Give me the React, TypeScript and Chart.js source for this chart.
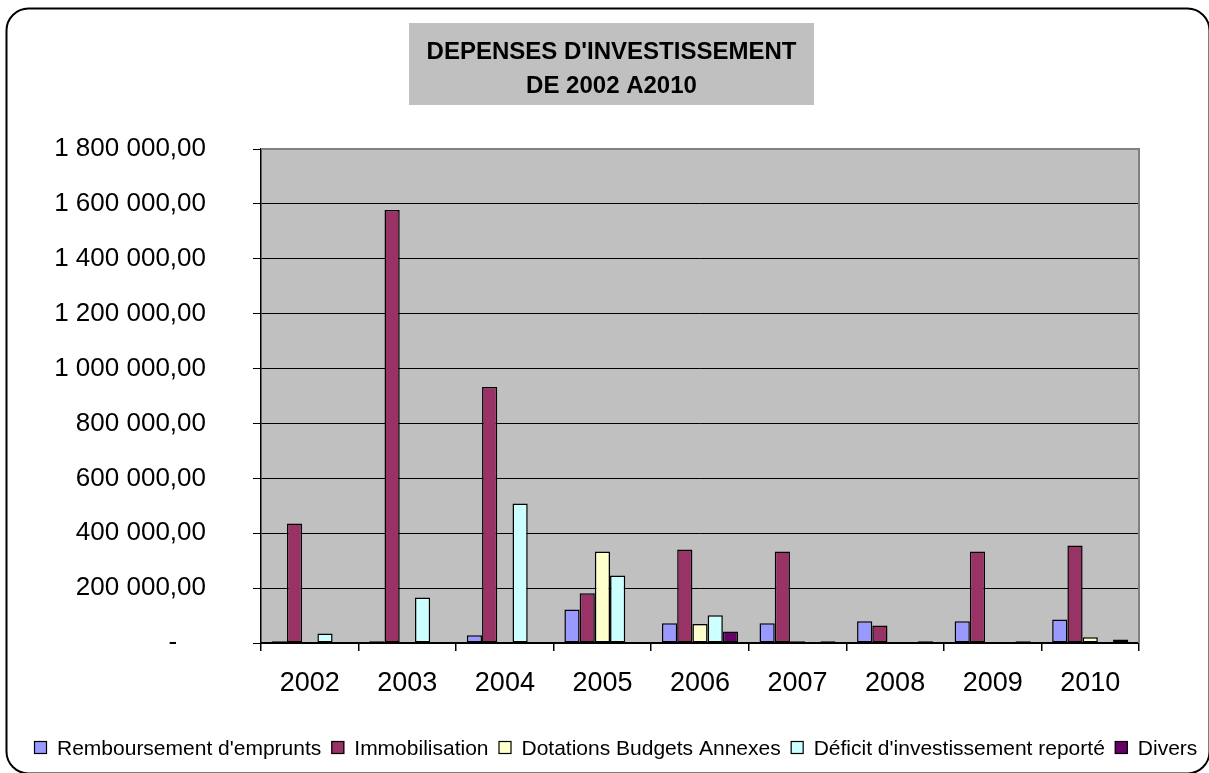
import React, { useEffect, useRef } from "react";
import { Chart, registerables } from "chart.js";

Chart.register(...registerables);

const FONT = '"Liberation Sans", Arial, sans-serif';

const TITLE_LINES = ["DEPENSES D'INVESTISSEMENT", "DE 2002 A2010"];

const CATEGORIES = ["2002", "2003", "2004", "2005", "2006", "2007", "2008", "2009", "2010"];

const REMBOURSEMENT = [6000, 6000, 28000, 122000, 72000, 72000, 79000, 79000, 86000];
const IMMOBILISATION = [435000, 1578000, 933000, 181000, 341000, 333000, 64000, 333000, 355000];
const DOTATIONS = [0, 0, 0, 333000, 69000, 6000, 0, 0, 21000];
const DEFICIT = [35000, 166000, 508000, 246000, 101000, 0, 0, 0, 0];
const DIVERS = [0, 0, 0, 0, 42000, 6000, 6000, 6000, 13000];

const SERIES_LABELS = [
  "Remboursement d'emprunts",
  "Immobilisation",
  "Dotations Budgets Annexes",
  "Déficit d'investissement reporté",
  "Divers",
];
const SERIES_COLORS = ["#9999FF", "#993366", "#FFFFCC", "#CCFFFF", "#660066"];

const Y_MAX = 1800000;
const Y_STEP = 200000;

function formatTick(v: number): string {
  if (v === 0) return "-\u2007\u2007";
  return Math.round(v).toString().replace(/\B(?=(\d{3})+(?!\d))/g, " ") + ",00";
}

const decorPlugin = {
  id: "decor",
  beforeDraw(chart: any) {
    const { ctx, chartArea } = chart;
    ctx.save();
    ctx.fillStyle = "#ffffff";
    ctx.fillRect(0, 0, chart.width, chart.height);
    // outer rounded frame
    ctx.beginPath();
    ctx.roundRect(6.5, 8.5, 1203, 765, 22);
    ctx.lineWidth = 2;
    ctx.strokeStyle = "#000";
    ctx.stroke();
    // title box
    ctx.fillStyle = "#C0C0C0";
    ctx.fillRect(409, 23, 405, 82);
    ctx.fillStyle = "#000";
    ctx.font = `bold 24px ${FONT}`;
    ctx.textAlign = "center";
    ctx.textBaseline = "alphabetic";
    ctx.fillText(TITLE_LINES[0], 611.5, 58.5);
    ctx.fillText(TITLE_LINES[1], 611.5, 92.5);
    // plot background
    ctx.fillStyle = "#C0C0C0";
    ctx.fillRect(
      chartArea.left,
      chartArea.top,
      chartArea.right - chartArea.left,
      chartArea.bottom - chartArea.top
    );
    ctx.restore();
  },
  beforeDatasetsDraw(chart: any) {
    const { ctx, chartArea } = chart;
    ctx.save();
    ctx.strokeStyle = "#808080";
    ctx.lineWidth = 2;
    ctx.beginPath();
    ctx.moveTo(chartArea.left, chartArea.top);
    ctx.lineTo(chartArea.right, chartArea.top);
    ctx.lineTo(chartArea.right, chartArea.bottom);
    ctx.stroke();
    ctx.restore();
  },
  afterDraw(chart: any) {
    const { ctx } = chart;
    ctx.save();
    ctx.font = `21px ${FONT}`;
    ctx.textAlign = "left";
    ctx.textBaseline = "alphabetic";
    let x = 34;
    const boxTop = 741;
    const baseline = 755;
    chart.data.datasets.forEach((ds: any) => {
      ctx.fillStyle = ds.backgroundColor;
      ctx.fillRect(x, boxTop, 13, 13);
      ctx.strokeStyle = "#000";
      ctx.lineWidth = 1.2;
      ctx.strokeRect(x + 0.5, boxTop + 0.5, 12, 12);
      ctx.fillStyle = "#000";
      ctx.fillText(ds.label, x + 23, baseline);
      x += 23 + ctx.measureText(ds.label).width + 10;
    });
    ctx.restore();
  },
};

export default function App() {
  const canvasRef = useRef<HTMLCanvasElement | null>(null);

  useEffect(() => {
    document.body.style.margin = "0";
    const canvas = canvasRef.current;
    if (!canvas) return;
    Chart.defaults.font.family = FONT;
    const seriesData = [REMBOURSEMENT, IMMOBILISATION, DOTATIONS, DEFICIT, DIVERS];
    const chart = new Chart(canvas, {
      type: "bar",
      data: {
        labels: CATEGORIES,
        datasets: seriesData.map((d, i) => ({
          label: SERIES_LABELS[i],
          data: d,
          backgroundColor: SERIES_COLORS[i],
          borderColor: "#000",
          borderWidth: 1.5,
          borderSkipped: false,
          barPercentage: 1,
          categoryPercentage: 0.78,
        })),
      },
      options: {
        animation: false,
        responsive: false,
        devicePixelRatio: 1,
        layout: { padding: { top: 149, right: 70, bottom: 0, left: 0 } },
        plugins: {
          legend: { display: false },
          tooltip: { enabled: false },
          title: { display: false },
        },
        scales: {
          x: {
            ticks: { color: "#000", font: { size: 27, family: FONT }, padding: 16 },
            grid: {
              offset: true,
              drawOnChartArea: false,
              tickLength: 8,
              color: "#000",
              lineWidth: 1.5,
            },
            border: { color: "#000", width: 1.5 },
            afterFit: (s: any) => {
              s.height = 130;
            },
          },
          y: {
            min: 0,
            max: Y_MAX,
            ticks: {
              stepSize: Y_STEP,
              color: "#000",
              font: { size: 26, family: FONT },
              padding: 47,
              callback: (v: any) => formatTick(Number(v)),
            },
            grid: {
              color: (c: any) => (c.tick && c.tick.value === Y_MAX ? "#808080" : "#000"),
              lineWidth: 1,
              tickLength: 8,
              tickColor: "#000",
            },
            border: { color: "#000", width: 1.5 },
            afterFit: (s: any) => {
              s.width = 261;
            },
          },
        },
      },
      plugins: [decorPlugin],
    });
    return () => chart.destroy();
  }, []);

  return (
    <div style={{ width: 1209, height: 773 }}>
      <canvas ref={canvasRef} width={1209} height={773} />
    </div>
  );
}
